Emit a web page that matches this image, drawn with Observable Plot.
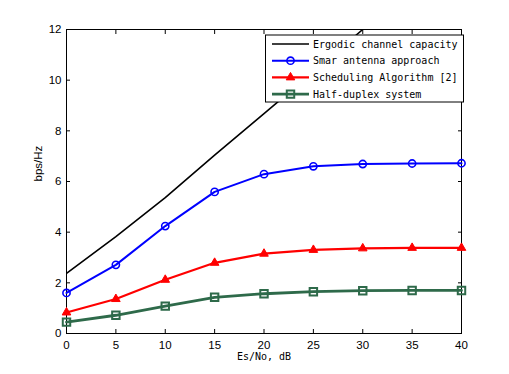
<!DOCTYPE html>
<html>
<head>
<meta charset="utf-8">
<script src="https://cdn.jsdelivr.net/npm/d3@7"></script>
<script src="https://cdn.jsdelivr.net/npm/@observablehq/plot@0.6"></script>
<style>
  html, body { margin: 0; padding: 0; background: white; }
  #chart { width: 509px; height: 374px; }
</style>
</head>
<body>
<div id="chart"></div>
<script>
// ---- data ----
const snrDb = [0, 5, 10, 15, 20, 25, 30, 35, 40];
const ergodicSnr = [0, 5, 10, 15, 20, 25, 30];
const ergodicCapacity = [2.37, 3.82, 5.36, 7.04, 8.68, 10.33, 12.0];
const smartAntenna = [1.60, 2.71, 4.24, 5.59, 6.29, 6.60, 6.69, 6.71, 6.72];
const scheduling = [0.83, 1.36, 2.12, 2.79, 3.15, 3.30, 3.36, 3.38, 3.38];
const halfDuplex = [0.45, 0.72, 1.08, 1.43, 1.57, 1.65, 1.69, 1.70, 1.70];
const xTicks = [0, 5, 10, 15, 20, 25, 30, 35, 40];
const yTicks = [0, 2, 4, 6, 8, 10, 12];
const seriesNames = ["Ergodic channel capacity", "Smar antenna approach", "Scheduling Algorithm [2]", "Half-duplex system"];
const xLabel = "Es/No, dB";
const yLabel = "bps/Hz";

const GREEN = "#2e6a4a";
const sansFont = "'Liberation Sans', Arial, sans-serif";
const monoFont = "'DejaVu Sans Mono', monospace";

const ergodicData = ergodicSnr.map((x, i) => ({x, y: ergodicCapacity[i]}));
const smartData = snrDb.map((x, i) => ({x, y: smartAntenna[i]}));
const schedData = snrDb.map((x, i) => ({x, y: scheduling[i]}));
const halfData = snrDb.map((x, i) => ({x, y: halfDuplex[i]}));

const TL = 4; // inward tick length
const noText = () => "";

const svg = Plot.plot({
  width: 509,
  height: 374,
  marginLeft: 66,
  marginRight: 48,
  marginTop: 29,
  marginBottom: 41,
  x: {domain: [0, 40]},
  y: {domain: [0, 12]},
  style: {background: "white", color: "black", fontFamily: sansFont, fontSize: "11.5px"},
  marks: [
    Plot.axisX(xTicks, {tickSize: 0, tickPadding: 7, label: null, fontSize: 11.5}),
    Plot.axisY(yTicks, {tickSize: 0, tickPadding: 5, label: null, fontSize: 11.5}),
    // inward ticks on all four sides (outward axis ticks shifted into the frame)
    Plot.axisX(xTicks, {anchor: "bottom", tickSize: TL, dy: -TL, tickFormat: noText, label: null}),
    Plot.axisX(xTicks, {anchor: "top", tickSize: TL, dy: TL, tickFormat: noText, label: null}),
    Plot.axisY(yTicks, {anchor: "left", tickSize: TL, dx: TL, tickFormat: noText, label: null}),
    Plot.axisY(yTicks, {anchor: "right", tickSize: TL, dx: -TL, tickFormat: noText, label: null}),
    Plot.frame({stroke: "black"}),
    Plot.line(ergodicData, {x: "x", y: "y", stroke: "black", strokeWidth: 1.6, clip: true}),
    Plot.line(smartData, {x: "x", y: "y", stroke: "#0000ff", strokeWidth: 2}),
    Plot.dot(smartData, {x: "x", y: "y", symbol: "circle", r: 3.6, stroke: "#0000ff", fill: "none", strokeWidth: 1.6}),
    Plot.line(schedData, {x: "x", y: "y", stroke: "#ff0000", strokeWidth: 2.2}),
    Plot.dot(schedData, {x: "x", y: "y", symbol: "triangle", r: 3.2, stroke: "#ff0000", fill: "#ff0000", strokeWidth: 1}),
    Plot.line(halfData, {x: "x", y: "y", stroke: GREEN, strokeWidth: 2.8}),
    Plot.dot(halfData, {x: "x", y: "y", symbol: "square", r: 4.2, stroke: GREEN, fill: "none", strokeWidth: 2}),
    Plot.text([xLabel], {frameAnchor: "bottom", dy: 26, fontFamily: monoFont, fontSize: 10, fill: "black"}),
    Plot.text([yLabel], {frameAnchor: "left", dx: -28, rotate: -90, fontFamily: sansFont, fontSize: 11.5, fill: "black"})
  ]
});

// ---- legend (drawn inside the SVG) ----
const legend = d3.select(svg).append("g").attr("class", "legend").attr("text-anchor", "start");
const lx = 265, ly = 34.5, lw = 198, lh = 67;
legend.append("rect")
  .attr("x", lx + 0.5).attr("y", ly + 0.5)
  .attr("width", lw).attr("height", lh)
  .attr("fill", "white").attr("stroke", "black").attr("stroke-width", 1);
const styles = [
  {stroke: "black", width: 1.6, symbol: null},
  {stroke: "#0000ff", width: 2, symbol: d3.symbolCircle, r: 3.6, fill: "none", sw: 1.6},
  {stroke: "#ff0000", width: 2.2, symbol: d3.symbolTriangle, r: 3.2, fill: "#ff0000", sw: 1},
  {stroke: GREEN, width: 2.8, symbol: d3.symbolSquare, r: 4.2, fill: "none", sw: 2}
];
seriesNames.forEach((name, i) => {
  const cy = 44 + i * 16.7;
  const s = styles[i];
  const g = legend.append("g");
  g.append("line")
    .attr("x1", 272).attr("x2", 309)
    .attr("y1", cy).attr("y2", cy)
    .attr("stroke", s.stroke).attr("stroke-width", s.width);
  if (s.symbol) {
    g.append("path")
      .attr("d", d3.symbol(s.symbol, Math.PI * s.r * s.r)())
      .attr("transform", `translate(290.5,${cy})`)
      .attr("fill", s.fill).attr("stroke", s.stroke).attr("stroke-width", s.sw);
  }
  g.append("text")
    .attr("x", 313).attr("y", cy)
    .attr("dy", "0.35em")
    .attr("text-anchor", "start")
    .attr("font-family", monoFont).attr("font-size", 10)
    .attr("fill", "black")
    .text(name);
});

document.getElementById("chart").appendChild(svg);
</script>
</body>
</html>
